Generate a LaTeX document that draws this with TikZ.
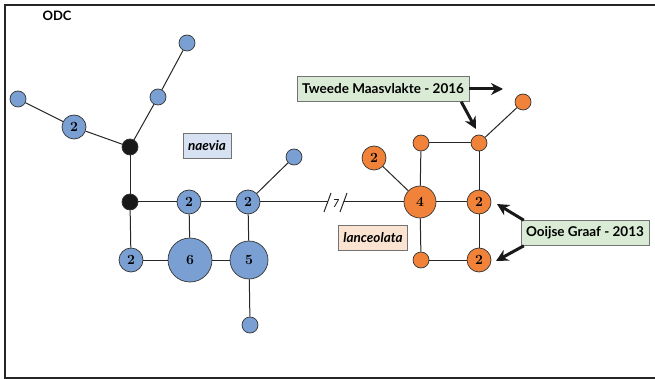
\documentclass[tikz,border=0pt]{standalone}
\usepackage{fontspec}
\newfontfamily\labelfont{Lato}
\usetikzlibrary{arrows.meta}
\definecolor{naeviablue}{RGB}{122,159,211}
\definecolor{lancorange}{RGB}{240,130,58}
\definecolor{naeviatag}{RGB}{214,225,241}
\definecolor{lanctag}{RGB}{251,227,209}
\definecolor{sitetag}{RGB}{217,235,213}
\begin{document}
\begin{tikzpicture}[x=1pt, y=-1pt, >={Stealth[length=12pt,width=12pt]}]
      \tikzstyle{allele}=[draw=black!80,shape=circle,inner sep=0pt,line width=0.7pt,font=\fontsize{14}{14}\selectfont\bfseries]
      \tikzstyle{naeviadot}=[allele,fill=naeviablue]
      \tikzstyle{lancdot}=[allele,fill=lancorange]
      \tikzstyle{tag}=[draw=black!55,line width=0.6pt,minimum height=25pt,inner xsep=5pt,font=\labelfont\bfseries\fontsize{13.5}{13.5}\selectfont]
      \tikzstyle{link}=[line width=1pt,black!85]
      \tikzstyle{pointer}=[->,line width=3pt,black!90]

      \useasboundingbox (0,0) rectangle (655,379);
      \draw [line width=1.4pt, black!85] (656,5) -- (5,5) -- (5,378) -- (656,378);

      \node [font=\labelfont\bfseries\fontsize{13}{13}\selectfont] (odc) at (57,16) {ODC};

      % draw haplotypes

      \foreach \x/\y [count=\i] in {187/43, 18/99, 158/97, 294/157, 250/325}
      \node [naeviadot, minimum size=16pt] (nv-\i) at (\x,\y) {};

      \foreach \x/\y/\m/\s [count=\i] in {74/127/2/24, 189/202/2/24, 248/202/2/24, 131/260/2/24, 190/260/6/44, 249/260/5/38}
      \node [naeviadot, minimum size=\s pt] (nvn-\i) at (\x,\y) {\m};

      \foreach \y [count=\i] in {147, 202}
      \node [allele, fill=black!90, minimum size=16pt] (hub-\i) at (130,\y) {};

      \foreach \x/\y [count=\i] in {523/102, 421/143, 479/143, 421/260}
      \node [lancdot, minimum size=16pt] (ln-\i) at (\x,\y) {};

      \foreach \x/\y/\m/\s [count=\i] in {374/158/2/24, 420/202/4/32, 479/202/2/24, 479/260/2/24}
      \node [lancdot, minimum size=\s pt] (lnn-\i) at (\x,\y) {\m};

      % draw text

      \node [tag, fill=naeviatag, font=\labelfont\bfseries\itshape\fontsize{13.5}{13.5}\selectfont] (naevia) at (207,146) {naevia};
      \node [tag, fill=lanctag, font=\labelfont\bfseries\itshape\fontsize{13.5}{13.5}\selectfont] (lanceolata) at (373,238) {lanceolata};
      \node [tag, fill=sitetag] (tweede) at (383,89) {Tweede Maasvlakte - 2016};
      \node [tag, fill=sitetag] (ooijse) at (585,233) {Ooijse Graaf - 2013};

      % draw lines

      \foreach \a/\b in {nv-2/nvn-1, nvn-1/hub-1, hub-1/nv-3, nv-3/nv-1, hub-1/hub-2,
                         hub-2/nvn-2, nvn-2/nvn-3, hub-2/nvn-4, nvn-4/nvn-5, nvn-5/nvn-6,
                         nvn-2/nvn-5, nvn-3/nvn-6, nvn-3/nv-4, nvn-6/nv-5}
      \draw [link] (\a) -- (\b);

      \foreach \a/\b in {lnn-2/lnn-1, lnn-2/ln-2, ln-2/ln-3, ln-3/ln-1, ln-3/lnn-3,
                         lnn-2/lnn-3, lnn-3/lnn-4, lnn-2/ln-4, ln-4/lnn-4}
      \draw [link] (\a) -- (\b);

      % break in the long branch
      \coordinate (cut-l) at (327.5,202);
      \coordinate (cut-r) at (344,202);
      \node [font=\labelfont\itshape\fontsize{11}{11}\selectfont, inner sep=0pt] (steps) at (336,204) {7};
      \draw [link] (nvn-3) -- (cut-l);
      \draw [link] (cut-r) -- (lnn-2);
      \draw [link] (324,212) -- (331,193);
      \draw [link] (340,212) -- (347,193);

      % arrows to the sites
      \coordinate (tip-1) at (503,89);
      \coordinate (tip-2) at (476,129);
      \coordinate (tip-3) at (497,204);
      \coordinate (tip-4) at (496,261);

      \draw [pointer] (tweede.east) -- (tip-1);
      \draw [pointer] ([xshift=-8pt]tweede.south east) -- (tip-2);
      \draw [pointer] ([xshift=3pt]ooijse.north west) -- (tip-3);
      \draw [pointer] ([xshift=3pt]ooijse.south west) -- (tip-4);

    \end{tikzpicture}
\end{document}
